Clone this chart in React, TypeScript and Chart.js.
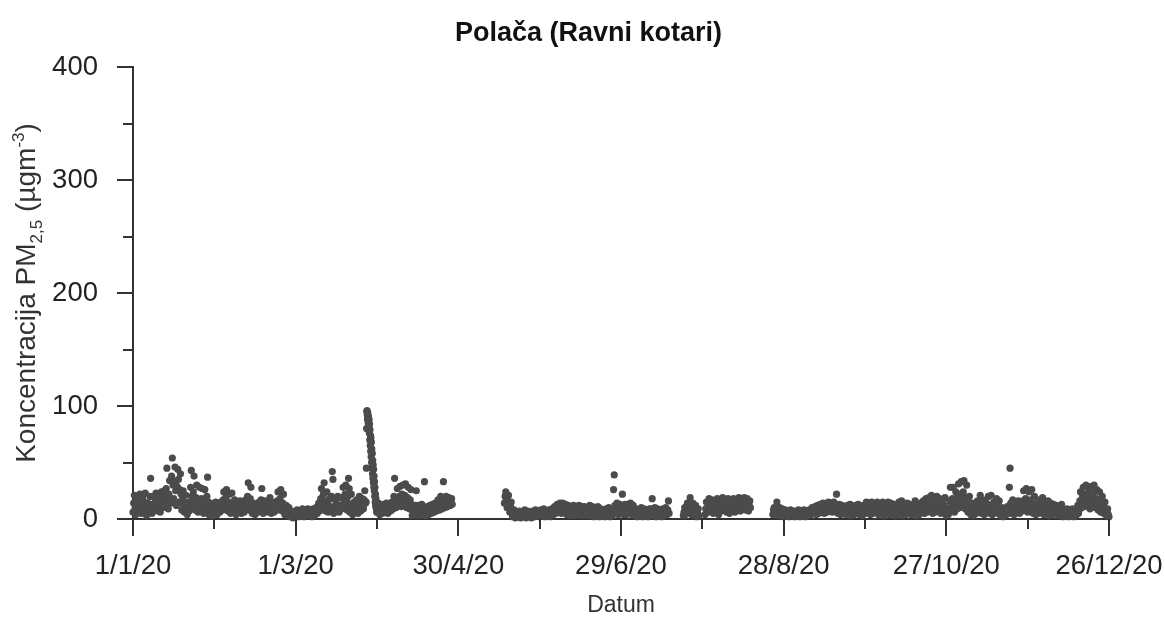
import React, { useEffect, useRef } from "react";
import { Chart, registerables } from "chart.js";

Chart.register(...registerables);

// PM2.5 concentrations sampled through the day, grouped per segment.
// Each segment: start day (days since 1/1/20), samples per day, values.
const janStart = 0;
const jan = [
  6, 14, 21, 9, 4, 12, 18, 7, 8, 16, 22, 10, 5, 11, 19, 8, 7, 15, 23, 12,
  3, 9, 14, 6, 8, 20, 36, 12, 5, 13, 20, 9, 7, 17, 23, 11, 9, 15, 22, 8,
  6, 18, 24, 13, 10, 19, 25, 15, 12, 27, 45, 20, 9, 22, 34, 17, 14, 38, 54, 30,
  18, 33, 46, 25, 12, 29, 44, 35, 15, 26, 40, 22, 8, 17, 25, 12, 6, 14, 21, 9,
  4, 10, 15, 7, 10, 28, 43, 20, 12, 24, 38, 17, 8, 19, 30, 12, 6, 16, 28, 10,
  9, 18, 27, 13, 5, 14, 26, 11, 7, 20, 37, 15, 4, 9, 14, 7, 3, 8, 12, 5,
  5, 10, 15, 8,
];
const febStart = 31;
const feb = [
  4, 9, 14, 7, 6, 11, 15, 9, 8, 17, 24, 12, 10, 19, 26, 14, 7, 15, 22, 10,
  5, 12, 23, 9, 6, 11, 17, 8, 4, 9, 15, 7, 7, 12, 16, 10, 5, 10, 14, 8,
  6, 12, 17, 9, 9, 20, 32, 14, 8, 18, 28, 12, 5, 10, 14, 7, 4, 9, 13, 6,
  6, 11, 15, 8, 8, 17, 27, 12, 5, 11, 16, 8, 6, 12, 15, 9, 7, 13, 19, 10,
  5, 9, 14, 7, 6, 11, 15, 8, 8, 16, 24, 12, 10, 18, 26, 14, 7, 14, 22, 10,
  4, 8, 12, 6, 3, 6, 10, 5, 2, 4, 7, 3, 1, 3, 6, 4,
];
const marStart = 60;
const mar = [
  3, 5, 8, 4, 2, 4, 7, 5, 3, 6, 9, 4, 2, 5, 8, 3, 4, 7, 9, 5,
  3, 5, 8, 4, 2, 6, 9, 5, 3, 7, 10, 6, 5, 9, 14, 7, 8, 18, 27, 12,
  10, 22, 32, 16, 7, 15, 24, 11, 6, 12, 18, 9, 9, 20, 42, 35, 5, 11, 17, 8,
  7, 13, 20, 10, 6, 12, 19, 9, 9, 19, 28, 14, 11, 22, 30, 16, 8, 20, 36, 27,
  6, 13, 22, 10, 4, 10, 15, 7, 6, 12, 17, 9, 5, 11, 20, 8, 7, 13, 18, 10,
  9, 17, 25, 14,
];
// late-March episode, every 2 hours
const marSpikeStart = 86;
const marSpike = [
  15, 45, 80, 95, 96, 92, 88, 94, 90, 85, 91, 87,
  82, 88, 76, 84, 70, 79, 65, 74, 60, 72, 55, 68,
  50, 62, 45, 58, 40, 52, 36, 48, 32, 44, 28, 38,
  25, 33, 20, 28, 15, 22, 12, 18, 10, 14, 8, 6,
];
const aprStart = 90;
const apr = [
  6, 10, 14, 8,
  4, 8, 12, 6, 5, 9, 13, 7, 6, 10, 14, 8, 5, 9, 12, 7, 7, 11, 15, 9,
  9, 20, 36, 14, 10, 18, 27, 14, 12, 20, 29, 16, 11, 22, 30, 17, 13, 21, 31, 18,
  10, 19, 28, 15, 9, 17, 26, 13, 3, 6, 11, 5, 4, 12, 25, 8, 3, 7, 12, 5,
  4, 8, 13, 6, 5, 10, 33, 9, 3, 7, 11, 5, 4, 8, 12, 6, 5, 9, 13, 7,
  6, 10, 14, 8, 7, 12, 17, 10, 8, 14, 20, 11, 9, 16, 33, 13, 10, 15, 20, 12,
  11, 17, 19, 14, 12, 16, 18, 13,
];
const mayStart = 137;
const may = [
  14, 20, 24, 18, 10, 16, 21, 13, 6, 11, 15, 8, 2, 5, 8, 3, 1, 3, 6, 2,
  2, 4, 7, 3, 1, 3, 5, 2, 2, 5, 8, 4, 1, 4, 7, 3, 2, 3, 6, 2,
  1, 4, 7, 3, 2, 5, 8, 3, 3, 5, 7, 4, 2, 4, 8, 3, 3, 6, 9, 4,
];
const junStart = 152;
const jun = [
  2, 4, 7, 3, 3, 5, 8, 4, 2, 6, 9, 4, 4, 8, 11, 6, 5, 9, 13, 7,
  6, 10, 14, 8, 5, 11, 14, 7, 6, 9, 13, 8, 4, 8, 12, 6, 3, 7, 11, 5,
  4, 8, 12, 6, 3, 7, 10, 5, 4, 9, 12, 6, 5, 8, 11, 6, 3, 7, 11, 5,
  4, 6, 10, 5, 3, 8, 12, 5, 4, 7, 11, 6, 2, 6, 10, 4, 3, 7, 11, 5,
  2, 5, 9, 4, 3, 6, 8, 4, 2, 5, 9, 3, 3, 6, 10, 4, 2, 5, 8, 3,
  6, 26, 39, 12, 5, 10, 14, 8, 4, 9, 13, 7, 6, 12, 22, 9, 4, 9, 13, 6,
];
const julStart = 182;
const jul = [
  4, 8, 13, 6, 5, 9, 14, 7, 4, 8, 12, 6, 3, 6, 9, 4, 2, 5, 8, 3,
  3, 6, 10, 4, 2, 5, 9, 3, 3, 6, 8, 4, 2, 5, 9, 3, 4, 9, 18, 6,
  3, 6, 10, 4, 2, 5, 9, 3, 3, 6, 8, 4, 2, 5, 9, 3, 3, 6, 10, 4,
  4, 8, 16, 5,
];
const julLateStart = 203;
const julLate = [
  3, 6, 10, 4, 5, 10, 14, 7, 6, 12, 19, 9, 4, 9, 14, 6, 3, 7, 12, 5,
  2, 5, 9, 3,
];
const augStart = 211;
const aug = [
  4, 9, 15, 6, 6, 12, 18, 9, 7, 13, 17, 10, 5, 11, 16, 8, 6, 12, 18, 9,
  4, 10, 15, 7, 7, 14, 19, 10, 8, 13, 17, 11, 6, 12, 18, 9, 5, 10, 16, 8,
  7, 13, 18, 10, 6, 12, 17, 9, 8, 14, 19, 11, 7, 13, 18, 10, 9, 15, 19, 12,
  8, 14, 18, 11, 7, 12, 16, 10,
];
const augLateStart = 236;
const augLate = [
  4, 8, 10, 6, 5, 9, 15, 7, 3, 7, 10, 5, 4, 6, 9, 5,
  2, 5, 8, 3, 3, 5, 7, 4, 2, 4, 8, 3, 3, 5, 7, 4,
];
const sepStart = 244;
const sep = [
  2, 4, 7, 3, 3, 5, 8, 4, 2, 5, 7, 3, 3, 6, 8, 4, 2, 4, 7, 3,
  3, 5, 8, 4, 4, 7, 10, 5, 5, 8, 11, 6, 4, 9, 12, 6, 5, 10, 13, 7,
  6, 9, 14, 7, 5, 10, 13, 8, 6, 11, 15, 8, 7, 10, 14, 9, 6, 11, 15, 8,
  7, 12, 22, 9, 5, 9, 13, 7, 4, 8, 12, 6, 5, 9, 11, 7, 4, 7, 12, 5,
  5, 8, 13, 6, 3, 7, 11, 5, 4, 8, 12, 6, 5, 9, 13, 7, 4, 7, 11, 5,
  3, 8, 12, 5, 5, 10, 15, 7, 6, 11, 14, 8, 4, 9, 15, 6, 5, 10, 13, 7,
];
const octStart = 274;
const oct = [
  6, 11, 15, 8, 4, 8, 12, 6, 5, 10, 15, 7, 3, 7, 11, 5, 6, 11, 15, 8,
  4, 9, 14, 6, 5, 10, 13, 7, 3, 8, 12, 5, 4, 9, 15, 6, 5, 11, 16, 7,
  3, 7, 11, 5, 4, 9, 14, 6, 6, 10, 13, 8, 4, 8, 12, 6, 5, 11, 16, 7,
  3, 8, 13, 5, 4, 9, 14, 6, 6, 12, 16, 8, 5, 11, 18, 7, 6, 13, 19, 9,
  7, 14, 21, 10, 5, 12, 17, 8, 6, 13, 20, 9, 7, 12, 18, 10, 5, 11, 16, 8,
  6, 12, 19, 9, 3, 6, 9, 4, 7, 16, 28, 11, 8, 18, 28, 12, 6, 14, 24, 10,
  9, 20, 31, 14,
];
const novStart = 305;
const nov = [
  10, 22, 33, 15, 12, 24, 34, 18, 9, 19, 30, 14, 6, 12, 20, 9, 4, 8, 14, 6,
  3, 7, 11, 5, 5, 10, 16, 7, 6, 14, 21, 9, 5, 11, 17, 8, 4, 9, 15, 6,
  6, 13, 20, 9, 5, 12, 21, 8, 4, 9, 15, 6, 6, 12, 18, 8, 5, 10, 16, 7,
  3, 6, 10, 4, 2, 5, 9, 3, 4, 7, 11, 5, 8, 28, 45, 14, 5, 11, 17, 8,
  4, 10, 15, 6, 6, 12, 16, 8, 5, 11, 14, 7, 7, 16, 25, 10, 8, 18, 27, 12,
  6, 15, 24, 9, 7, 17, 26, 11, 5, 12, 20, 8, 4, 9, 14, 6, 5, 11, 17, 7,
];
const decStart = 335;
const dec = [
  6, 13, 19, 9, 4, 9, 15, 6, 5, 10, 16, 7, 3, 8, 14, 5, 4, 9, 13, 6,
  5, 8, 12, 6, 3, 6, 9, 4, 4, 8, 13, 5, 2, 5, 8, 3, 3, 6, 9, 4,
  2, 5, 8, 3, 3, 6, 9, 4, 2, 5, 7, 3, 4, 8, 12, 5, 8, 16, 24, 11,
  10, 20, 28, 14, 12, 22, 30, 16, 11, 21, 27, 15, 9, 19, 29, 14, 12, 23, 30, 17,
  10, 18, 26, 14, 8, 16, 24, 12, 6, 13, 20, 9, 5, 10, 15, 7, 3, 6, 9, 4,
  2, 5, 8, 3, 4, 7, 13, 5, 2, 4, 6, 3, 1, 3, 5, 2, 2, 4, 6, 3,
  1, 3, 5, 2,
];

const segments: [number, number, number[]][] = [
  [janStart, 4, jan], [febStart, 4, feb], [marStart, 4, mar], [marSpikeStart, 12, marSpike],
  [aprStart, 4, apr], [mayStart, 4, may], [junStart, 4, jun], [julStart, 4, jul],
  [julLateStart, 4, julLate], [augStart, 4, aug], [augLateStart, 4, augLate],
  [sepStart, 4, sep], [octStart, 4, oct], [novStart, 4, nov], [decStart, 4, dec],
];

const xTickLabels = ["1/1/20", "1/3/20", "30/4/20", "29/6/20", "28/8/20", "27/10/20", "26/12/20"];
const yTicks = [0, 100, 200, 300, 400];

const FONT = "'Liberation Sans', Arial, sans-serif";
const AXIS_COLOR = "#333333";
const DOT_COLOR = "#4b4b4b";

export default function App() {
  const ref = useRef<HTMLCanvasElement | null>(null);

  useEffect(() => {
    const canvas = ref.current;
    if (!canvas) return;
    const points: { x: number; y: number }[] = [];
    segments.forEach(([start, perDay, vals]) => {
      vals.forEach((v, i) => {
        points.push({ x: start + Math.floor(i / perDay) + (i % perDay) / perDay, y: v });
      });
    });

    const tickPlugin = {
      id: "customTicks",
      afterDraw(chart: any) {
        const ctx = chart.ctx;
        const xs = chart.scales.x;
        const ys = chart.scales.y;
        const area = chart.chartArea;
        ctx.save();
        ctx.strokeStyle = AXIS_COLOR;
        ctx.lineWidth = 2;
        for (let v = 0; v <= 360; v += 30) {
          const px = Math.round(xs.getPixelForValue(v));
          const len = v % 60 === 0 ? 17 : 10;
          ctx.beginPath();
          ctx.moveTo(px, area.bottom);
          ctx.lineTo(px, area.bottom + len);
          ctx.stroke();
        }
        for (let v = 0; v <= 400; v += 50) {
          const py = Math.round(ys.getPixelForValue(v));
          const len = v % 100 === 0 ? 16 : 10;
          ctx.beginPath();
          ctx.moveTo(area.left, py);
          ctx.lineTo(area.left - len, py);
          ctx.stroke();
        }
        // y-axis title with subscript / superscript
        const cy = (area.top + area.bottom) / 2;
        const parts: [string, number, number][] = [
          ["Koncentracija PM", 28, 0],
          ["2,5", 17, 7],
          [" (µgm", 28, 0],
          ["-3", 17, -11],
          [")", 28, 0],
        ];
        let total = 0;
        parts.forEach(([t, s]) => {
          ctx.font = `${s}px ${FONT}`;
          total += ctx.measureText(t).width;
        });
        ctx.translate(35, cy);
        ctx.rotate(-Math.PI / 2);
        ctx.fillStyle = "#333333";
        ctx.textBaseline = "alphabetic";
        ctx.textAlign = "left";
        let cx = -total / 2;
        parts.forEach(([t, s, dy]) => {
          ctx.font = `${s}px ${FONT}`;
          ctx.fillText(t, cx, dy);
          cx += ctx.measureText(t).width;
        });
        ctx.restore();
      },
    };

    const chart = new Chart(canvas, {
      type: "scatter",
      data: {
        datasets: [
          {
            data: points,
            pointRadius: 3.6,
            pointHoverRadius: 3.6,
            pointBackgroundColor: DOT_COLOR,
            pointBorderWidth: 0,
            clip: false,
          } as any,
        ],
      },
      options: {
        responsive: false,
        animation: false,
        layout: { padding: { left: 12, right: 0, top: 0, bottom: 0 } },
        plugins: {
          legend: { display: false },
          tooltip: { enabled: false },
          title: {
            display: true,
            text: "Polača (Ravni kotari)",
            color: "#111111",
            font: { family: FONT, size: 27, weight: "bold", lineHeight: 1.2 },
            padding: { top: 17, bottom: 17.6 },
          },
        },
        scales: {
          x: {
            type: "linear",
            min: 0,
            max: 360,
            grid: { display: false, drawTicks: false },
            border: { display: true, color: AXIS_COLOR, width: 2 },
            ticks: {
              stepSize: 60,
              autoSkip: false,
              maxRotation: 0,
              padding: 31,
              color: "#222222",
              font: { family: FONT, size: 27.5 },
              callback: (v: any) => xTickLabels[Math.round(Number(v) / 60)] ?? "",
            },
            title: {
              display: true,
              text: "Datum",
              color: "#333333",
              font: { family: FONT, size: 23, lineHeight: 1 },
              padding: { top: 0, bottom: 2 },
            },
            afterFit: (s: any) => {
              s.height = 100;
              s.paddingLeft = 0;
              s.paddingRight = 56;
            },
          },
          y: {
            min: 0,
            max: 400,
            grid: { display: false, drawTicks: false },
            border: { display: true, color: AXIS_COLOR, width: 2 },
            ticks: {
              stepSize: 100,
              padding: 35,
              color: "#222222",
              font: { family: FONT, size: 27.5 },
              callback: (v: any) => (yTicks.includes(Number(v)) ? String(v) : ""),
            },
            afterFit: (s: any) => {
              s.width = 121;
              s.paddingTop = 0;
              s.paddingBottom = 0;
            },
          },
        },
      },
      plugins: [tickPlugin],
    });
    return () => chart.destroy();
  }, []);

  return (
    <div style={{ position: "fixed", left: 0, top: 0, width: 1165, height: 619, background: "#fff" }}>
      <canvas ref={ref} width={1165} height={619} />
    </div>
  );
}
